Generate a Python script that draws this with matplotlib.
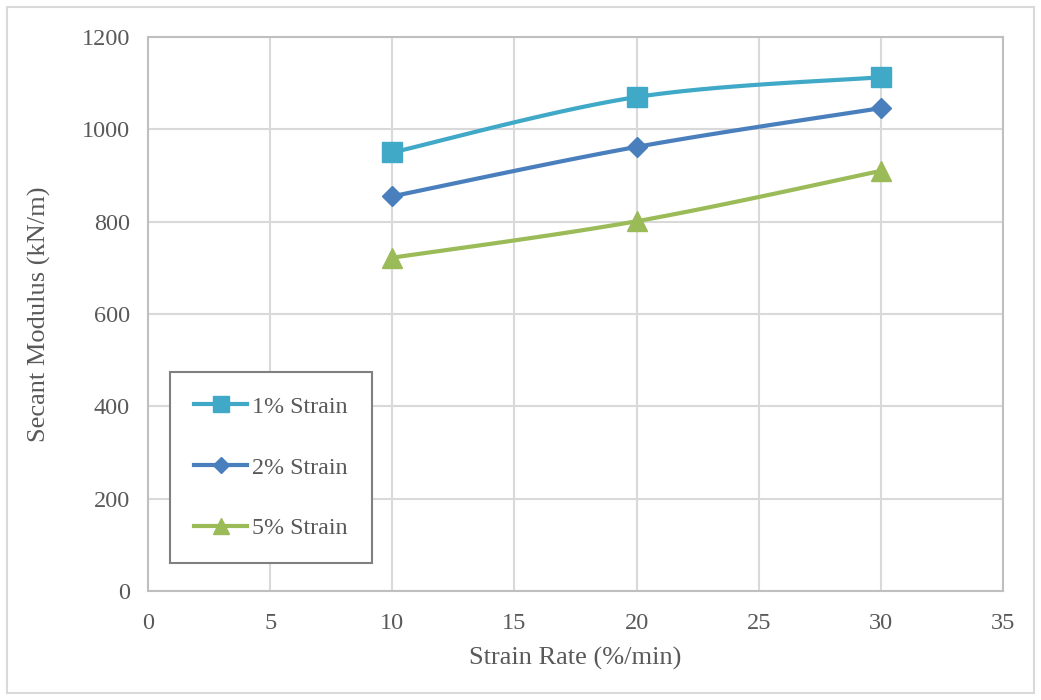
import numpy as np
import matplotlib.pyplot as plt
from matplotlib.patches import Rectangle
from matplotlib.lines import Line2D

strain_rate = [10, 20, 30]
strain_1 = [950, 1070, 1113]
strain_2 = [855, 962, 1046]
strain_5 = [722, 801, 910]
labels = ["1% Strain", "2% Strain", "5% Strain"]
colors = ["#3fa9c7", "#4a7fbd", "#9bbb59"]
markers = ["s", "D", "^"]
msizes = [14, 10.5, 14]


def smooth(x, y, n=40):
    # bezier smoothing like a spreadsheet "smoothed line"
    p = np.column_stack([x, y]).astype(float)
    pts = np.vstack([p[0], p, p[-1]])
    out = []
    t = np.linspace(0, 1, n)[:, None]
    for i in range(1, len(pts) - 2):
        p0, p1, p2, p3 = pts[i - 1], pts[i], pts[i + 1], pts[i + 2]
        c1 = p1 + (p2 - p0) / 6
        c2 = p2 - (p3 - p1) / 6
        seg = ((1 - t) ** 3) * p1 + 3 * ((1 - t) ** 2) * t * c1 + 3 * (1 - t) * t ** 2 * c2 + t ** 3 * p2
        out.append(seg)
    s = np.vstack(out)
    return s[:, 0], s[:, 1]


plt.rcParams['font.family'] = ['Liberation Serif', 'DejaVu Serif']
text_color = "#595959"

fig = plt.figure(figsize=(10.41, 7), dpi=100)
ax = fig.add_axes([0.1422, 0.1557, 0.8213, 0.7914])

fig.patches.append(Rectangle((7 / 1041, 7 / 700), 1027 / 1041, 686 / 700,
                             transform=fig.transFigure, fill=False,
                             edgecolor="#d9d9d9", linewidth=1.5, zorder=0))

handles = []
for ys, lab, c, m, ms in zip([strain_1, strain_2, strain_5], labels, colors, markers, msizes):
    sx, sy = smooth(strain_rate, ys)
    ax.plot(sx, sy, color=c, linewidth=3, solid_capstyle="round", zorder=3)
    ax.plot(strain_rate, ys, linestyle="none", marker=m, markersize=ms,
            color=c, zorder=4)
    handles.append(Line2D([], [], color=c, linewidth=3, marker=m,
                          markersize=ms * 0.8, label=lab))

ax.set_xlim(0, 35)
ax.set_ylim(0, 1200)
ax.set_xticks(range(0, 36, 5))
ax.set_yticks(range(0, 1201, 200))
ax.grid(True, color="#d9d9d9", linewidth=1.5)
ax.set_axisbelow(True)
for sp in ax.spines.values():
    sp.set_color("#bfbfbf")
    sp.set_linewidth(1.5)
ax.tick_params(axis="both", length=0, labelsize=17.5, labelcolor=text_color)
ax.tick_params(axis="y", pad=13)
ax.tick_params(axis="x", pad=16)

ax.set_xlabel("Strain Rate (%/min)", fontsize=19, color=text_color, labelpad=9)
ax.set_ylabel("Secant Modulus (kN/m)", fontsize=19, color=text_color, labelpad=22)

leg = ax.legend(handles=handles, loc="lower left", bbox_to_anchor=(0.026, 0.05),
                fontsize=17.3, labelspacing=1.62, handlelength=2.2, handletextpad=0.22,
                borderpad=1.0, fancybox=False, framealpha=1, borderaxespad=0)
leg.get_frame().set_edgecolor("#808080")
leg.get_frame().set_linewidth(1.5)
for t in leg.get_texts():
    t.set_color(text_color)

plt.savefig("out.png", dpi=100)
